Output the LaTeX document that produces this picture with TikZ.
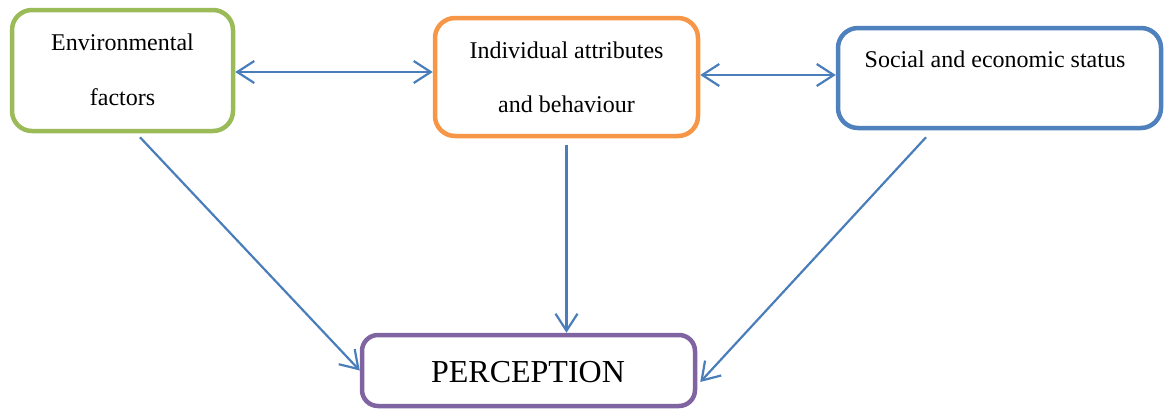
\documentclass[tikz,border=0pt]{standalone}
\usepackage{fontspec}
\setmainfont{Liberation Serif}
\usetikzlibrary{arrows.meta,calc}
\definecolor{cgreen}{HTML}{9BBB59}
\definecolor{corange}{HTML}{F79646}
\definecolor{cblue}{HTML}{4F81BD}
\definecolor{cpurple}{HTML}{8064A2}
\definecolor{carrow}{HTML}{4A7EBB}
\begin{document}
\begin{tikzpicture}[x=1pt,y=-1pt,
  box/.style={draw,line width=4.5pt,rounded corners=20pt,fill=white,inner sep=0pt},
  txt/.style={anchor=base,inner sep=0pt,font=\fontsize{24}{28}\selectfont},
  tip/.style={},
  conn/.style={draw=carrow,line width=2.2pt,{Straight Barb[length=17pt,width=22pt]}-{Straight Barb[length=17pt,width=22pt]}},
  link/.style={draw=carrow,line width=2.2pt,-{Straight Barb[length=17pt,width=22pt]}}]
\useasboundingbox (0,0) rectangle (1167,408);
\node[box,draw=cgreen,minimum width=221pt,minimum height=121pt] (green) at (122.5,70.5) {};
\node[box,draw=corange,minimum width=263pt,minimum height=118pt] (orange) at (566.5,77) {};
\node[box,draw=cblue,minimum width=323pt,minimum height=100pt] (blue) at (999.5,78) {};
\node[box,draw=cpurple,minimum width=333pt,minimum height=71pt,rounded corners=16pt] (perc) at (528.5,370.5) {};
\node[txt] (t1) at (122.5,50) {Environmental};
\node[txt] (t2) at (122.5,105) {factors};
\node[txt] (t3) at (566.5,58) {Individual attributes};
\node[txt] (t4) at (566.5,112) {and behaviour};
\node[txt] (t5) at (995,67) {Social and economic status};
\node[txt,font=\fontsize{32}{36}\selectfont] (t6) at (528,382) {PERCEPTION};
\draw[conn] ($(green.east)+(0,1.5)$) -- ($(green.east -| orange.west)+(0,1.5)$);
\draw[conn] ($(orange.east)+(0,-2)$) -- ($(orange.east -| blue.west)+(0,-2)$);
\draw[link] ($(green.south)+(17.5,4)$) -- (perc.west);
\draw[link] ($(orange.south)+(0,7)$) -- (orange.south |- perc.north);
\draw[link] ($(blue.south)+(-73.5,7)$) -- ($(perc.east)+(3,11.5)$);
\end{tikzpicture}
\end{document}
